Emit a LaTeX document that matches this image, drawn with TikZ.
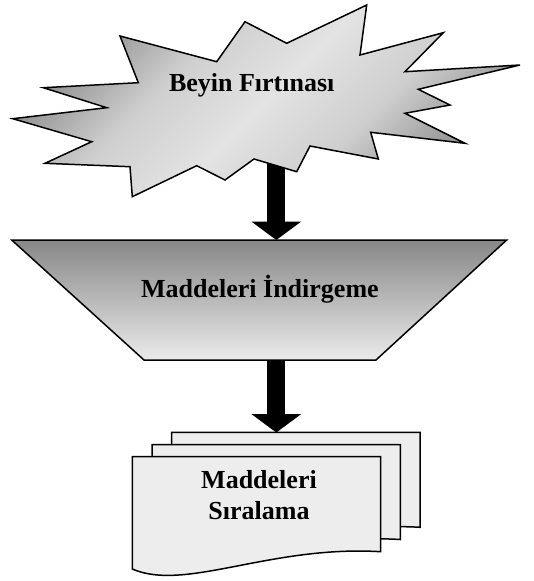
\documentclass[tikz,border=0pt]{standalone}
\usepackage{fontspec}
\setmainfont{Liberation Serif}
\usetikzlibrary{arrows.meta}
\pgfdeclareverticalshading{burst}{100bp}{color(0bp)=(black!45); color(25bp)=(black!45);
    color(38bp)=(black!19); color(50bp)=(black!11); color(62bp)=(black!19);
    color(75bp)=(black!45); color(100bp)=(black!45)}

\begin{document}
\begin{tikzpicture}[
    x=1pt, y=-1pt,
    outline/.style={draw=black,line width=1.5pt,line join=miter},
    boxtext/.style={font=\bfseries\fontsize{26}{31.7}\selectfont,inner sep=0pt},
    paper/.style={outline,fill=black!7},
    blockarrow/.style={line width=17.7pt,-{Triangle[width=50pt,length=18.5pt,line width=0pt]}}
]
    \useasboundingbox (0,0) rectangle (533,581);
    \coordinate (s1) at (276.3,160);
    \coordinate (t1) at (276.3,240);
    \coordinate (s2) at (276.3,355);
    \coordinate (t2) at (276.3,432.5);
    \foreach \i in {2,1,0}
        \draw[paper,shift={(19.7*\i,-12.2*\i)}] (132.3,456.7) -- (380.7,456.7) -- (380.7,551.7)
            .. controls (270,545) and (185,592) .. (132.3,569) -- cycle;
    \draw[blockarrow] (s1) -- (t1);
    \draw[blockarrow] (s2) -- (t2);
    \draw[outline,top color=black!47,bottom color=black!8]
        (11.7,240) -- (506.7,240) -- (376,360) -- (144,360) -- cycle;
    \draw[outline,shading=burst,shading angle=45]
        (120,36) -- (216.7,61.7) -- (245,21.7) -- (286.7,43.3) -- (366.7,5) -- (360,55)
        -- (443.3,32.7) -- (405,71.7) -- (520,65) -- (418.3,89.3) -- (450,105) -- (405,113.3)
        -- (465,143.3) -- (370.7,132.3) -- (378.3,159) -- (310,146) -- (296.7,171.7) -- (254,159)
        -- (225,180) -- (196.7,165.7) -- (132.3,196.7) -- (130,166.7) -- (45,163.3) -- (91.7,141.7)
        -- (12.7,118.7) -- (106.7,107.7) -- (43.3,87.7) -- (138.3,82.7) -- cycle;
    \node[boxtext,anchor=base] (brain) at (251.7,91.7) {Beyin Fırtınası};
    \node[boxtext,anchor=base] (reduce) at (259.9,297.3) {Maddeleri İndirgeme};
    \node[boxtext,align=center] (rank) at (259,495) {Maddeleri\\Sıralama};
\end{tikzpicture}
\end{document}
